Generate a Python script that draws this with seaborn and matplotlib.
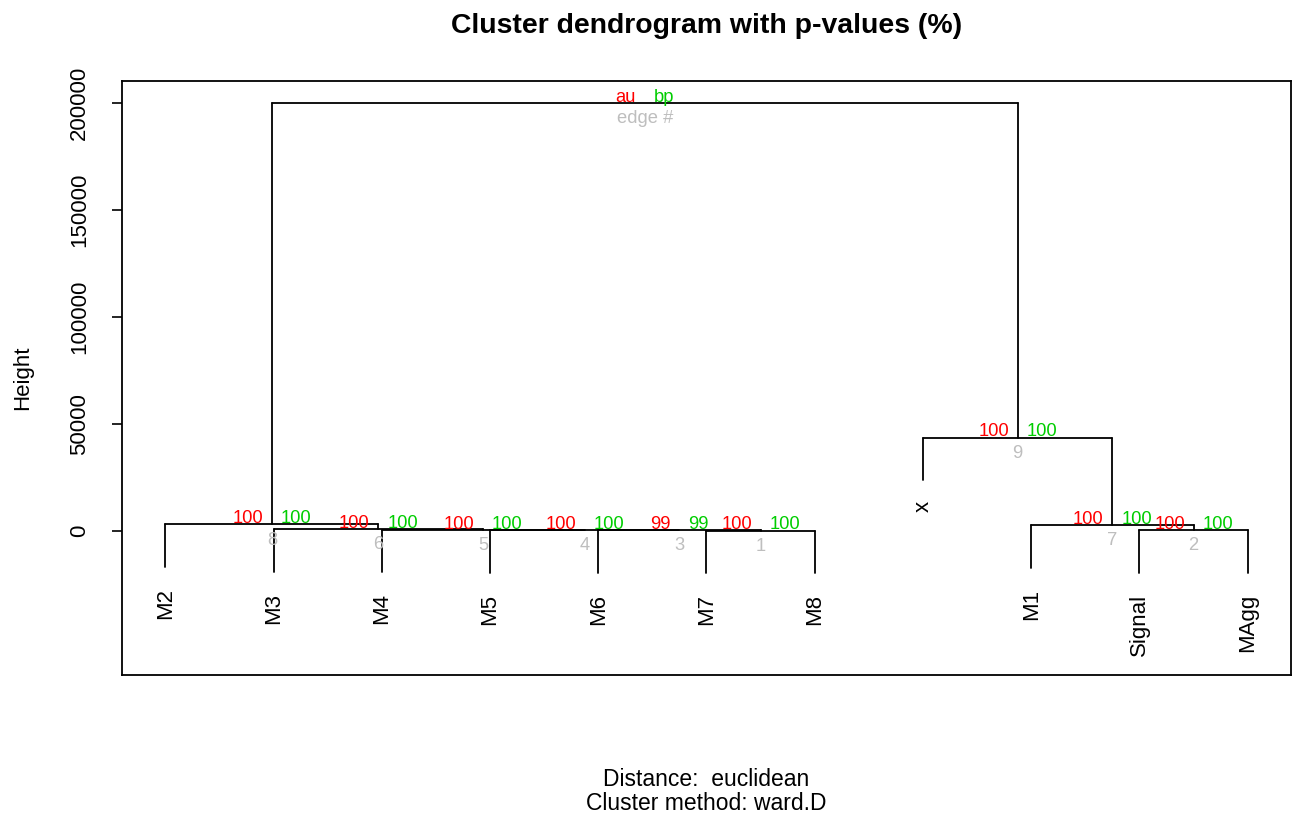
import matplotlib
matplotlib.use("Agg")
import matplotlib.pyplot as plt
import numpy as np
import pandas as pd
import seaborn as sns

# Leaf labels in dendrogram order
leaf_labels = ["M2", "M3", "M4", "M5", "M6", "M7", "M8", "x", "M1", "Signal", "MAgg"]

# Merge table (pvclust edge order). Negative = leaf index (1-based, in leaf order),
# positive = earlier edge number.
merge_left = [-6, -10, -5, -4, -3, -2, -9, -1, -8, 8]
merge_right = [-7, -11, 1, 3, 4, 5, 2, 6, 7, 9]
merge_height = [80, 300, 200, 350, 500, 700, 2700, 3000, 43500, 200000]

# Approximately unbiased (au) and bootstrap probability (bp) values, in %
au_values = [100, 100, 99, 100, 100, 100, 100, 100, 100]
bp_values = [100, 100, 99, 100, 100, 100, 100, 100, 100]
root_labels = ["au", "bp", "edge #"]

y_ticks = [0, 50000, 100000, 150000, 200000]

title_text = "Cluster dendrogram with p-values (%)"
distance_text = "Distance:  euclidean"
method_text = "Cluster method: ward.D"

AU_COL = "#FF0000"
BP_COL = "#00CD00"
EDGE_COL = "#BEBEBE"

sns.set_theme(style="white")
plt.rcParams["font.family"] = ["Liberation Sans", "DejaVu Sans"]

fig = plt.figure(figsize=(13, 8.19), dpi=100)
ax = fig.add_axes([122 / 1300, 1 - 675 / 819, (1291 - 122) / 1300, (675 - 81) / 819])

hang = 0.1 * max(merge_height)

# Node positions: leaves at 1..n, internal nodes at the midpoint of their children
n_edges = len(merge_height)
node_x = {}
segments = []
seg_id = 0
leaf_ends = {}


def child_pos(c, parent_h):
    if c < 0:
        x = float(-c)
        bottom = parent_h - hang
        leaf_ends[-c] = (x, bottom)
        return x, bottom
    return node_x[c], merge_height[c - 1]


for i in range(n_edges):
    h = merge_height[i]
    xl, yl = child_pos(merge_left[i], h)
    xr, yr = child_pos(merge_right[i], h)
    node_x[i + 1] = (xl + xr) / 2
    for (xa, ya, xb, yb) in [(xl, yl, xl, h), (xl, h, xr, h), (xr, h, xr, yr)]:
        segments.append({"seg": seg_id, "x": xa, "y": ya})
        segments.append({"seg": seg_id, "x": xb, "y": yb})
        seg_id += 1

seg_df = pd.DataFrame(segments)
sns.lineplot(data=seg_df, x="x", y="y", units="seg", estimator=None, sort=False,
             color="black", lw=1.3, ax=ax, legend=False)

ax.set_xlim(0.6, 11.4)
ax.set_ylim(-67430, 210140)

# Leaf labels hanging below each leaf
for idx, lab in enumerate(leaf_labels, start=1):
    lx, ly = leaf_ends[idx]
    ax.annotate(lab, (lx, ly), xytext=(0, -15), textcoords="offset points",
                rotation=90, ha="center", va="top", fontsize=16, color="black")

# au / bp / edge number annotations
pv_size = 13.2
for i in range(n_edges):
    mx = node_x[i + 1]
    h = merge_height[i]
    if i < len(au_values):
        au_t, bp_t, ed_t = str(au_values[i]), str(bp_values[i]), str(i + 1)
    else:
        au_t, bp_t, ed_t = root_labels
    ax.annotate(au_t, (mx, h), xytext=(-6.3, 0.8), textcoords="offset points",
                ha="right", va="baseline", color=AU_COL, fontsize=pv_size)
    ax.annotate(bp_t, (mx, h), xytext=(6.3, 0.8), textcoords="offset points",
                ha="left", va="baseline", color=BP_COL, fontsize=pv_size)
    ax.annotate(ed_t, (mx, h), xytext=(0, -5.2), textcoords="offset points",
                ha="center", va="top", color=EDGE_COL, fontsize=pv_size)

# Axes styling
ax.set_xticks([])
ax.set_xlabel("")
ax.set_yticks(y_ticks)
ax.set_yticklabels([str(t) for t in y_ticks], rotation=90, va="center", fontsize=16)
ax.tick_params(axis="y", which="major", left=True, length=7, width=1.2,
               pad=16, color="black", labelcolor="black")
for sp in ax.spines.values():
    sp.set_visible(True)
    sp.set_color("black")
    sp.set_linewidth(1.3)
ax.set_ylabel("Height", fontsize=16, color="black")
ax.yaxis.set_label_coords(-0.076, 0.5)
ax.grid(False)

cx = (122 + 1291) / 2 / 1300
fig.text(cx, 1 - 26 / 819, title_text, ha="center", va="center",
         fontsize=20.4, fontweight="bold", color="black")
fig.text(cx, 1 - 779 / 819, distance_text, ha="center", va="center",
         fontsize=16.5, color="black")
fig.text(cx, 1 - 804 / 819, method_text, ha="center", va="center",
         fontsize=16.5, color="black")

fig.savefig("out.png", dpi=100, facecolor="white")
